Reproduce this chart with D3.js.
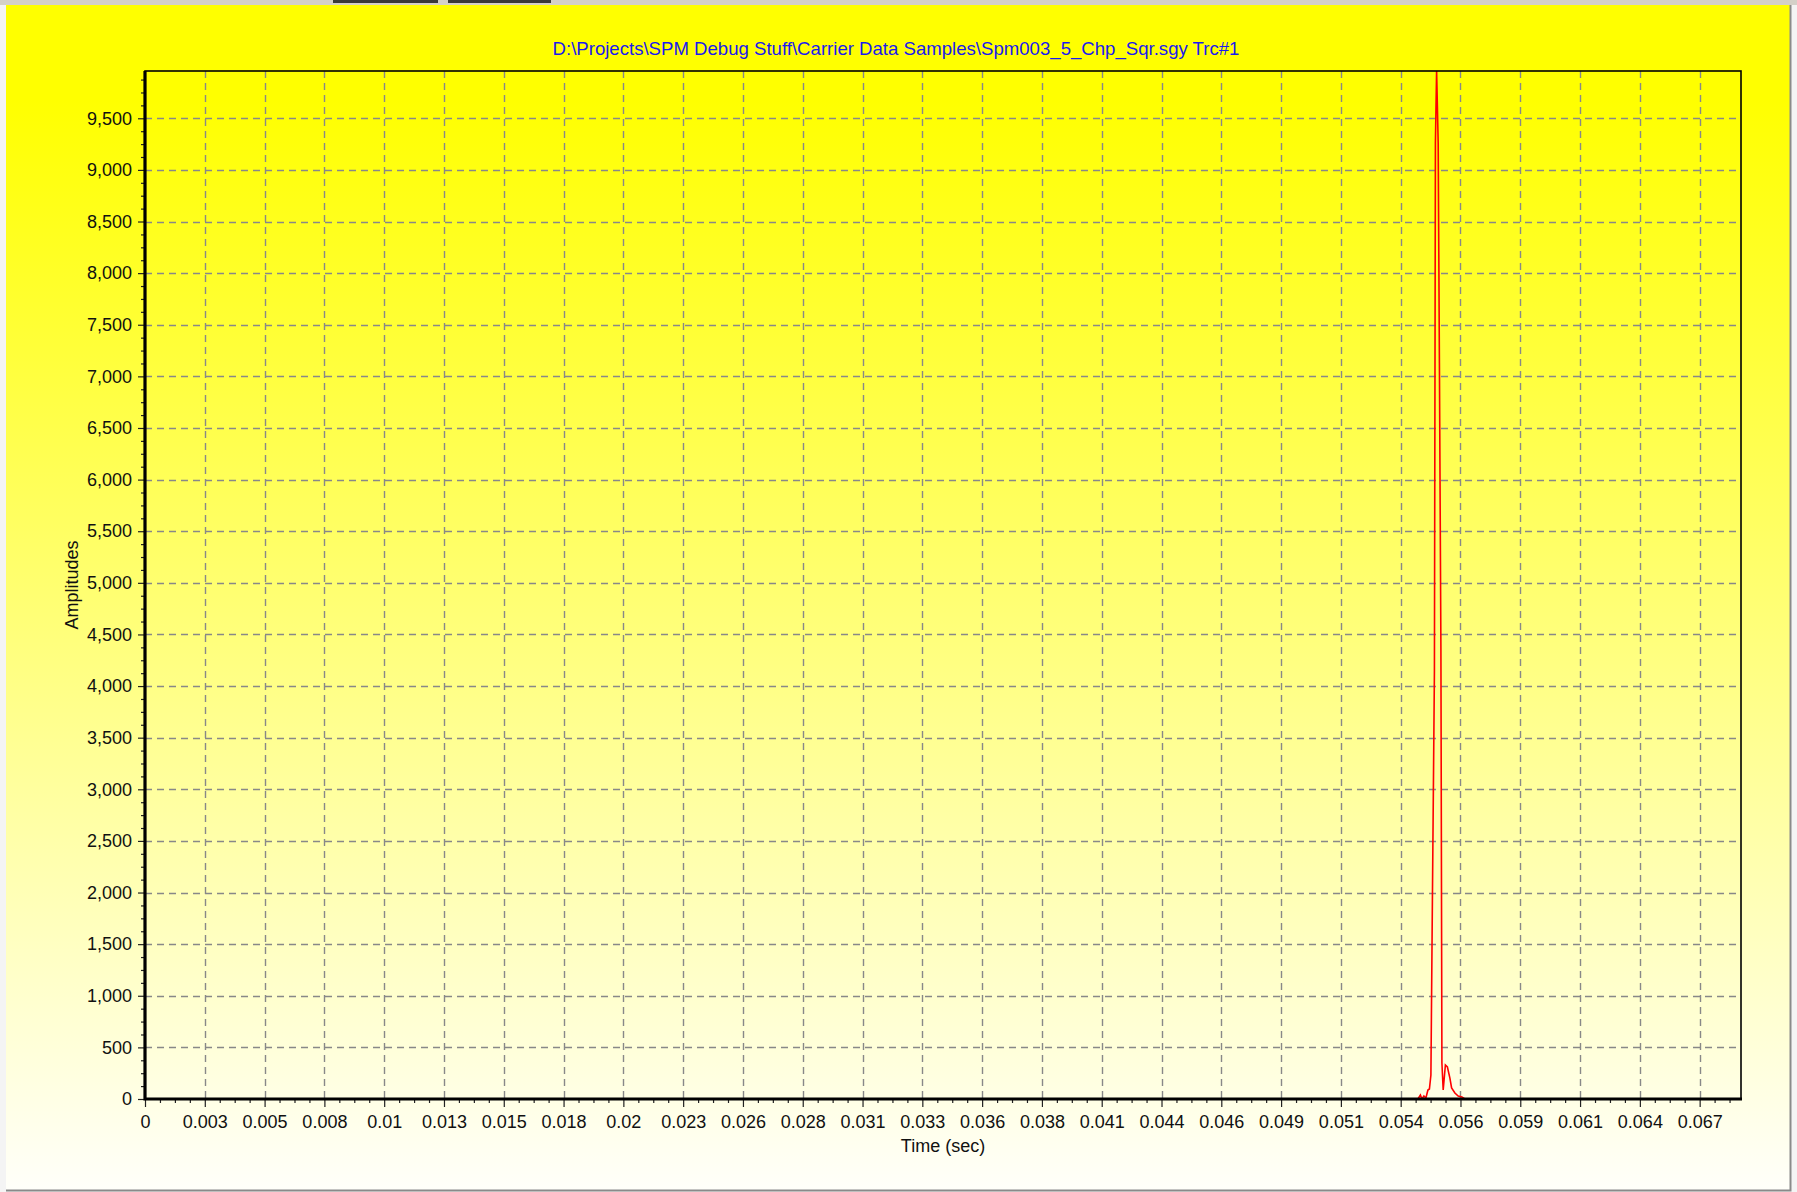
<!DOCTYPE html>
<html>
<head>
<meta charset="utf-8">
<title>Spm003_5_Chp_Sqr.sgy Trc#1</title>
<script src="https://cdn.jsdelivr.net/npm/d3@7"></script>
<style>
	body { margin: 0; background: #f4f4f4; }
	text { font-family: "Liberation Sans", Arial, sans-serif; }
</style>
</head>
<body>
<div id="chart"></div>
<script>

// Titre et axes
const chartTitle = 'D:\\Projects\\SPM Debug Stuff\\Carrier Data Samples\\Spm003_5_Chp_Sqr.sgy Trc#1';
const xTitle = 'Time (sec)';
const yTitle = 'Amplitudes';

// Graduations de l'axe des temps (pas de 0.00256 s) et leurs libellés
const xTickStep = 0.00256;
const xTickLabels = ['0', '0.003', '0.005', '0.008', '0.01', '0.013', '0.015', '0.018', '0.02',
	'0.023', '0.026', '0.028', '0.031', '0.033', '0.036', '0.038', '0.041', '0.044', '0.046',
	'0.049', '0.051', '0.054', '0.056', '0.059', '0.061', '0.064', '0.067'];
const xMax = 0.06833;

// Graduations des amplitudes
const yTicks = [0, 500, 1000, 1500, 2000, 2500, 3000, 3500, 4000, 4500, 5000,
	5500, 6000, 6500, 7000, 7500, 8000, 8500, 9000, 9500];
const yMax = 9958;

// Trace : nul partout sauf autour de 0.055 s
const times = [0, 0.054498, 0.054604, 0.054669, 0.054754, 0.054840, 0.054926, 0.054990,
	0.055054, 0.055118, 0.055204, 0.055247, 0.055298, 0.055366, 0.055418, 0.055482,
	0.055525, 0.055580, 0.055674, 0.055760, 0.055867, 0.055940, 0.056081, 0.056222,
	0.056381, 0.056509, 0.06833];
const amplitudes = [0, 0, 39, 0, 29, 10, 87, 97,
	232, 1928, 4136, 9260, 9958, 9260, 7130, 4369,
	349, 87, 329, 310, 203, 107, 58, 29,
	19, 0, 0];

class TraceChart {

	constructor(options) {
		this.element = options.element;
		this.data = times.map(function(t, i) {
			return { t: t, a: amplitudes[i] };
		});
		this.draw();
	}

	draw() {
		this.width = 1797;
		this.height = 1192;
		this.left = 145;
		this.right = 1741;
		this.top = 71;
		this.bottom = 1099;

		this.createSVG();
		this.createScales();
		this.createGrid();
		this.createAxes();
		this.createLine();
		this.createFrame();
		this.createTitles();
	}

	createSVG() {
		this.svg = d3.select(this.element)
			.append('svg')
				.attr('width', this.width)
				.attr('height', this.height);

		const grad = this.svg.append('defs')
			.append('linearGradient')
				.attr('id', 'bg')
				.attr('x1', 0).attr('y1', 0)
				.attr('x2', 0).attr('y2', 1);
		grad.append('stop').attr('offset', '0%').attr('stop-color', '#ffff00');
		grad.append('stop').attr('offset', '8%').attr('stop-color', '#ffff00');
		grad.append('stop').attr('offset', '100%').attr('stop-color', '#fffffa');

		// bandeau gris de la fenêtre en haut
		this.svg.append('rect')
			.attr('x', 0).attr('y', 0)
			.attr('width', this.width).attr('height', 5)
			.attr('fill', '#d4d0c8');
		this.svg.append('rect')
			.attr('x', 333).attr('y', 0).attr('width', 105).attr('height', 3)
			.attr('fill', '#3a3a3a');
		this.svg.append('rect')
			.attr('x', 448).attr('y', 0).attr('width', 103).attr('height', 3)
			.attr('fill', '#3a3a3a');

		this.svg.append('rect')
			.attr('x', 6).attr('y', 5)
			.attr('width', 1784).attr('height', 1185)
			.attr('fill', 'url(#bg)');
		this.svg.append('path')
			.attr('d', 'M1790.5,5V1190.5H6')
			.attr('fill', 'none')
			.attr('stroke', '#8a8a8a')
			.attr('stroke-width', 2);
	}

	createScales() {
		this.xScale = d3.scaleLinear()
			.domain([0, xMax])
			.range([this.left, this.right]);

		this.yScale = d3.scaleLinear()
			.domain([0, yMax])
			.range([this.bottom, this.top]);

		this.xTicks = xTickLabels.map(function(l, i) { return i * xTickStep; });
		this.xMinor = d3.range(0, xTickLabels.length * 4)
			.filter(function(i) { return i % 4 !== 0; })
			.map(function(i) { return i * xTickStep / 4; })
			.filter(function(v) { return v < xMax; });
		this.yMinor = d3.range(0, 80)
			.filter(function(i) { return i % 4 !== 0; })
			.map(function(i) { return i * 125; })
			.filter(function(v) { return v < yMax; });
	}

	createGrid() {
		const that = this;
		const grid = this.svg.append('g')
			.attr('stroke', '#888')
			.attr('stroke-width', 1.4)
			.attr('stroke-dasharray', '7,5');

		grid.selectAll('.vgrid')
			.data(this.xTicks.slice(1)).enter()
			.append('line')
				.attr('x1', function(d) { return Math.round(that.xScale(d)) + 0.5; })
				.attr('x2', function(d) { return Math.round(that.xScale(d)) + 0.5; })
				.attr('y1', this.top)
				.attr('y2', this.bottom);

		grid.selectAll('.hgrid')
			.data(yTicks.slice(1)).enter()
			.append('line')
				.attr('y1', function(d) { return Math.round(that.yScale(d)) + 0.5; })
				.attr('y2', function(d) { return Math.round(that.yScale(d)) + 0.5; })
				.attr('x1', this.left)
				.attr('x2', this.right);
	}

	createAxes() {
		const xAxis = d3.axisBottom(this.xScale)
			.tickValues(this.xTicks)
			.tickSize(8)
			.tickPadding(8)
			.tickFormat(function(d, i) { return xTickLabels[i]; });

		const xAxisMinor = d3.axisBottom(this.xScale)
			.tickValues(this.xMinor)
			.tickSize(4)
			.tickFormat('');

		const yAxis = d3.axisLeft(this.yScale)
			.tickValues(yTicks)
			.tickSize(7)
			.tickPadding(6)
			.tickFormat(d3.format(','));

		const yAxisMinor = d3.axisLeft(this.yScale)
			.tickValues(this.yMinor)
			.tickSize(4)
			.tickFormat('');

		const axes = [
			[xAxis, `translate(0, ${this.bottom})`],
			[xAxisMinor, `translate(0, ${this.bottom})`],
			[yAxis, `translate(${this.left}, 0)`],
			[yAxisMinor, `translate(${this.left}, 0)`]
		];

		axes.forEach(function(a) {
			const g = this.svg.append('g')
				.attr('transform', a[1])
				.call(a[0]);
			g.select('.domain').remove();
			g.selectAll('line').attr('stroke', '#222').attr('stroke-width', 1.2);
			g.selectAll('text')
				.attr('font-family', '"Liberation Sans", Arial, sans-serif')
				.attr('font-size', 18)
				.attr('fill', '#111');
		}, this);
	}

	createLine() {
		const that = this;
		this.svg.append('clipPath')
			.attr('id', 'plot')
			.append('rect')
				.attr('x', this.left).attr('y', this.top)
				.attr('width', this.right - this.left)
				.attr('height', this.bottom - this.top);

		const line = d3.line()
			.x(function(d) { return that.xScale(d.t); })
			.y(function(d) { return that.yScale(d.a); });

		this.svg.append('path')
			.datum(this.data)
			.attr('clip-path', 'url(#plot)')
			.attr('d', line)
			.attr('fill', 'none')
			.attr('stroke', '#ff0000')
			.attr('stroke-width', 1.6);
	}

	createFrame() {
		// cadre : fin en haut et à droite, épais à gauche et en bas
		this.svg.append('rect')
			.attr('x', this.left).attr('y', this.top)
			.attr('width', this.right - this.left)
			.attr('height', this.bottom - this.top)
			.attr('fill', 'none')
			.attr('stroke', '#000')
			.attr('stroke-width', 1.6);

		this.svg.append('path')
			.attr('d', `M${this.left},${this.top}V${this.bottom}H${this.right + 1}`)
			.attr('fill', 'none')
			.attr('stroke', '#000')
			.attr('stroke-width', 3.2);
	}

	createTitles() {
		this.svg.append('text')
			.attr('x', 896)
			.attr('y', 55)
			.attr('text-anchor', 'middle')
			.attr('font-size', 18.6)
			.attr('fill', '#1a1aee')
			.text(chartTitle);

		this.svg.append('text')
			.attr('x', (this.left + this.right) / 2)
			.attr('y', 1152)
			.attr('text-anchor', 'middle')
			.attr('font-size', 18)
			.attr('fill', '#111')
			.text(xTitle);

		this.svg.append('text')
			.attr('transform', `translate(78, ${(this.top + this.bottom) / 2}) rotate(-90)`)
			.attr('text-anchor', 'middle')
			.attr('font-size', 18)
			.attr('fill', '#111')
			.text(yTitle);
	}

}

new TraceChart({ element: '#chart' });

</script>
</body>
</html>
